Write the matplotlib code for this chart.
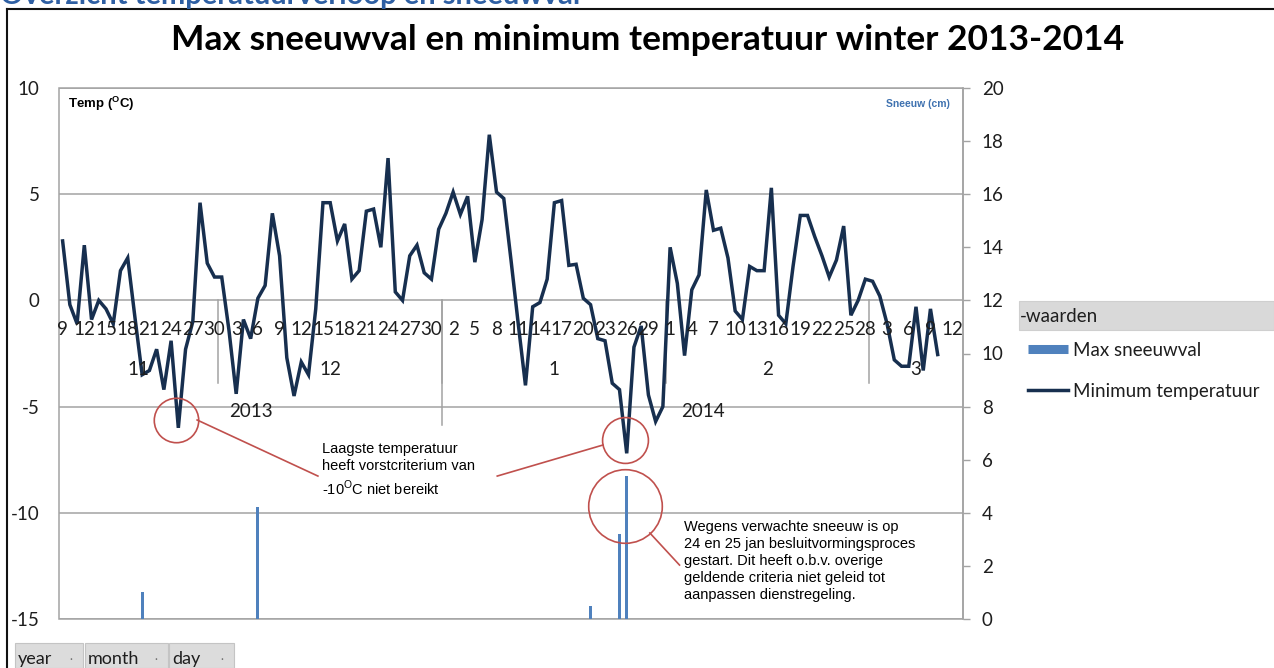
import numpy as np
import pandas as pd
import matplotlib
matplotlib.use('Agg')
import matplotlib.pyplot as plt
from matplotlib.patches import Rectangle
from matplotlib.lines import Line2D

# Gegevens
START = '2013-11-09'
END = '2014-03-13'   # laatste categorie op de as

min_temp = [
    2.8, -0.2, -1.1, 2.6, -0.9, 0.0, -0.4, -1.1, 1.4, 2.0,
    -0.8, -3.5, -3.3, -2.3, -4.2, -1.9, -6.0, -2.3, -1.0, 4.6,
    1.75, 1.1, 1.1, -1.4, -4.4, -0.9, -1.8, 0.1, 0.7, 4.1,
    2.1, -2.7, -4.5, -2.9, -3.5, -0.4, 4.6, 4.6, 2.8, 3.6,
    1.0, 1.4, 4.2, 4.3, 2.5, 6.7, 0.4, 0.0, 2.1, 2.6,
    1.3, 1.0, 3.35, 4.1, 5.1, 4.05, 4.9, 1.8, 3.8, 7.8,
    5.1, 4.8, 1.9, -1.1, -4.0, -0.3, -0.1, 1.0, 4.6, 4.7,
    1.65, 1.7, 0.1, -0.2, -1.8, -1.9, -3.9, -4.2, -7.2, -2.2,
    -1.2, -4.45, -5.7, -5.0, 2.5, 0.8, -2.6, 0.5, 1.2, 5.2,
    3.3, 3.4, 2.0, -0.5, -0.9, 1.6, 1.4, 1.4, 5.3, -0.7,
    -1.1, 1.6, 4.0, 4.0, 3.0, 2.1, 1.1, 1.9, 3.5, -0.7,
    0.0, 1.0, 0.9, 0.2, -1.1, -2.8, -3.1, -3.1, -0.3, -3.3,
    -0.4, -2.55,
]

snow_dates = ['2013-11-20', '2013-12-06', '2014-01-21', '2014-01-25', '2014-01-26']
snow_cm = [1.0, 4.2, 0.5, 3.2, 5.4]

temp_ticks = [-15, -10, -5, 0, 5, 10]
snow_ticks = list(range(0, 21, 2))

W, H = 1274, 668
LINE = '#172F4F'
BAR = '#4F81BD'
GRID = '#A3A3A3'
RED = '#C0504D'
TXT = '#1E1E1E'

plt.rcParams['font.family'] = ['Lato', 'DejaVu Sans']
plt.rcParams['axes.unicode_minus'] = False
plt.rcParams['mathtext.fontset'] = 'custom'
plt.rcParams['mathtext.rm'] = 'Liberation Sans'
plt.rcParams['mathtext.bf'] = 'Liberation Sans:bold'

dates = pd.date_range(START, END, freq='D')
x = np.arange(len(dates))
temp = np.full(len(dates), np.nan)
temp[:len(min_temp)] = min_temp
snow_x = [(pd.Timestamp(d) - dates[0]).days for d in snow_dates]


def fx(p):
    return p / W


def fy(p):
    return 1 - p / H


fig = plt.figure(figsize=(W / 100, H / 100), dpi=100)
ax = fig.add_axes([fx(59), fy(619), 904 / W, 531 / H])
ax2 = ax.twinx()

# temperatuur (links)
ax.plot(x, temp, color=LINE, lw=2.5, solid_joinstyle='miter', zorder=3)
ax.set_xlim(-0.5, len(dates) - 0.5)
ax.set_ylim(-15, 10)
ax.set_yticks(temp_ticks)
ax.tick_params(axis='y', length=0, pad=14, labelsize=13.5, labelcolor=TXT)
ax.set_xticks([])
ax.yaxis.grid(True, color=GRID, lw=1.1)
ax.set_axisbelow(True)
for s in ax.spines.values():
    s.set_visible(False)
ax.add_patch(Rectangle((0, 0), 1, 1, transform=ax.transAxes, fill=False,
                       edgecolor=GRID, lw=1.1, clip_on=False, zorder=1))

# sneeuw (rechts)
ax2.bar(snow_x, snow_cm, width=0.42, color=BAR, zorder=2)
ax2.set_ylim(0, 20)
ax2.set_yticks(snow_ticks)
ax2.tick_params(axis='y', direction='out', length=5, width=1, color=GRID,
                pad=8.5, labelsize=13.5, labelcolor=TXT)
for k, s in ax2.spines.items():
    s.set_visible(k == 'right')
ax2.spines['right'].set_color(GRID)
ax2.spines['right'].set_linewidth(1.1)

# categorie-as met dag / maand / jaar
xt = ax.get_xaxis_transform()
for i in range(0, len(dates), 3):
    ax.text(i, 0.545, str(dates[i].day), transform=xt, ha='center', va='center',
            fontsize=13.5, color=TXT)

s = pd.Series(x, index=dates)
for (yr, mo), idx in s.groupby([dates.year, dates.month]):
    lo, hi = idx.min() - 0.5, idx.max() + 0.5
    ax.text((lo + hi) / 2, 0.47, str(mo), transform=xt, ha='center', va='center',
            fontsize=13.5, color=TXT)
    if lo > 0:
        ax.plot([lo, lo], [0.6, 0.444], transform=xt, color=GRID, lw=1.1)
for yr, idx in s.groupby(dates.year):
    lo, hi = idx.min() - 0.5, idx.max() + 0.5
    ax.text((lo + hi) / 2, 0.391, str(yr), transform=xt, ha='center', va='center',
            fontsize=13.5, color=TXT)
    if lo > 0:
        ax.plot([lo, lo], [0.6, 0.365], transform=xt, color=GRID, lw=1.1)

# annotaties
i1 = int(np.nanargmin(temp[:53]))
i2 = int(np.nanargmin(temp))
ax.plot(i1 - 0.3, temp[i1] + 0.37, 'o', ms=32, mfc='none', mec=RED, mew=1.2, zorder=4)
ax.plot(i2 - 0.2, temp[i2] + 0.63, 'o', ms=33, mfc='none', mec=RED, mew=1.2, zorder=4)
ax2.plot(np.mean(snow_x[-2:]) + 0.2, 4.26, 'o', ms=53, mfc='none', mec=RED, mew=1.2, zorder=4)

ax.plot([18.6, 35.3], [-5.63, -8.27], color=RED, lw=1.2, zorder=4)
ax.plot([74.7, 60.1], [-6.81, -8.27], color=RED, lw=1.2, zorder=4)
ax.plot([81.2, 85.3], [-10.95, -12.46], color=RED, lw=1.2, zorder=4)

ax.text(35.8, -6.67, 'Laagste temperatuur\nheeft vorstcriterium van\n-10$^{\\mathrm{O}}$C niet bereikt',
        family='Liberation Sans', fontsize=10.5, va='top', ha='left', linespacing=1.3,
        color='black')
ax.text(85.95, -10.34, 'Wegens verwachte sneeuw is op\n24 en 25 jan besluitvormingsproces\n'
        'gestart. Dit heeft o.b.v. overige\ngeldende criteria niet geleid tot\n'
        'aanpassen dienstregeling.',
        family='Liberation Sans', fontsize=10.5, va='top', ha='left', linespacing=1.27,
        color='black')

# as-titels binnen het plotvlak
fig.text(fx(68), fy(104), 'Temp ($^{\\mathbf{O}}$C)', family='Liberation Sans',
         fontsize=9.5, fontweight='bold', va='center', ha='left', color='black')
fig.text(fx(950), fy(104), 'Sneeuw (cm)', family='Liberation Sans', fontsize=7.5,
         fontweight='bold', va='center', ha='right', color='#3F72B0')

# titel en kop
fig.text(fx(648), fy(40), 'Max sneeuwval en minimum temperatuur winter 2013-2014',
         fontsize=25.5, fontweight='bold', ha='center', va='center', color='black')
fig.text(0, fy(4), 'Overzicht temperatuurverloop en sneeuwval', fontsize=21,
         fontweight='bold', ha='left', va='baseline', color='#2E5FA3')

# rand van de grafiek
fig.add_artist(Line2D([fx(7), fx(7)], [fy(9), 0], color='#111111', lw=1.5))
fig.add_artist(Line2D([fx(7), 1], [fy(9), fy(9)], color='#111111', lw=1.5))

# legenda
fig.add_artist(Rectangle((fx(1019), fy(330)), 1 - fx(1019), 29 / H, facecolor='#D9D9D9',
                         edgecolor='#CFCFCF', lw=0.8))
fig.text(fx(1020), fy(316), '-waarden', fontsize=13.5, va='center', ha='left', color=TXT)
handles = [Line2D([], [], color=BAR, lw=6.5, solid_capstyle='butt'),
           Line2D([], [], color=LINE, lw=2.5)]
fig.legend(handles, ['Max sneeuwval', 'Minimum temperatuur'], loc='upper left',
           bbox_to_anchor=(fx(1028), fy(342)), frameon=False, fontsize=13.5,
           handlelength=2.13, handletextpad=0.27, borderpad=0, borderaxespad=0,
           labelspacing=1.27, labelcolor=TXT)

# knoppen onderaan
for lab, x0, x1 in [('year', 15, 83), ('month', 85, 168), ('day', 169, 234)]:
    fig.add_artist(Rectangle((fx(x0), 0), (x1 - x0) / W, 25 / H, facecolor='#DCDCDC',
                             edgecolor='#C4C4C4', lw=0.8))
    fig.text(fx(x0 + 3), fy(659), lab, fontsize=13, va='center', ha='left', color=TXT)
    fig.text(fx(x1 - 12), fy(659), '·', fontsize=8, va='center', ha='center', color='#707070')

fig.savefig('out.png', dpi=100)
